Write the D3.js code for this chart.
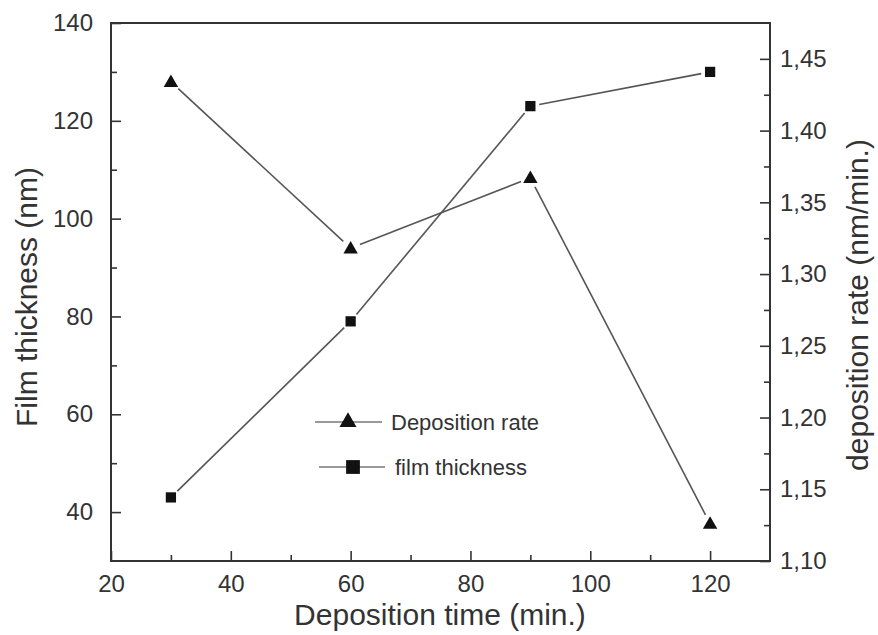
<!DOCTYPE html>
<html>
<head>
<meta charset="utf-8">
<script src="https://cdn.jsdelivr.net/npm/d3@7"></script>
<style>
  html, body { margin: 0; padding: 0; background: #fff; }
  text { font-family: "Liberation Sans", Arial, sans-serif; fill: #333; }
</style>
</head>
<body>
<svg id="chart" width="878" height="635"></svg>
<script>
// Deposition time (min.)
const times = [30, 60, 90, 120];
// Film thickness (nm), left axis
const thickness = [43, 79, 123, 130];
// Deposition rate (nm/min.), right axis
const rate = [1.434, 1.318, 1.367, 1.126];

const xTicks = [20, 40, 60, 80, 100, 120];
const yLeftTicks = [40, 60, 80, 100, 120, 140];
const yRightTicks = [1.10, 1.15, 1.20, 1.25, 1.30, 1.35, 1.40, 1.45];

const svg = d3.select("#chart");
const m = { left: 111, right: 770, top: 23, bottom: 561 };

const x = d3.scaleLinear().domain([20, 130]).range([m.left, m.right]);
const yL = d3.scaleLinear().domain([30, 140]).range([m.bottom, m.top]);
const yR = d3.scaleLinear().domain([1.10, 1.475]).range([m.bottom, m.top]);

const axisColor = "#333";
const lineColor = "#555";

// frame
svg.append("rect")
  .attr("x", m.left).attr("y", m.top)
  .attr("width", m.right - m.left).attr("height", m.bottom - m.top)
  .attr("fill", "none").attr("stroke", axisColor).attr("stroke-width", 2);

function styleAxis(g) {
  g.select(".domain").remove();
  g.selectAll(".tick line").attr("stroke", axisColor).attr("stroke-width", 1.6);
  g.selectAll(".tick text").attr("font-size", 24).attr("fill", "#333");
}

// bottom axis (ticks point inward)
svg.append("g").attr("transform", `translate(0,${m.bottom})`)
  .call(d3.axisBottom(x).tickValues(xTicks).tickSize(-10).tickPadding(14)
    .tickFormat(d3.format("d")))
  .call(styleAxis);
svg.append("g").attr("transform", `translate(0,${m.bottom})`)
  .call(d3.axisBottom(x).tickValues(d3.range(30, 130, 20)).tickSize(-6).tickFormat(""))
  .call(styleAxis);

// left axis
svg.append("g").attr("transform", `translate(${m.left},0)`)
  .call(d3.axisLeft(yL).tickValues(yLeftTicks).tickSize(-10).tickPadding(18)
    .tickFormat(d3.format("d")))
  .call(styleAxis);
svg.append("g").attr("transform", `translate(${m.left},0)`)
  .call(d3.axisLeft(yL).tickValues(d3.range(50, 140, 20)).tickSize(-6).tickFormat(""))
  .call(styleAxis);

// right axis, decimal comma
const commaFmt = d => d3.format(".2f")(d).replace(".", ",");
svg.append("g").attr("transform", `translate(${m.right},0)`)
  .call(d3.axisRight(yR).tickValues(yRightTicks).tickSize(-10).tickPadding(10)
    .tickFormat(commaFmt))
  .call(styleAxis);
svg.append("g").attr("transform", `translate(${m.right},0)`)
  .call(d3.axisRight(yR).tickValues(d3.range(1.125, 1.47, 0.05)).tickSize(-6).tickFormat(""))
  .call(styleAxis);

// axis titles
svg.append("text").attr("x", 440).attr("y", 625)
  .attr("text-anchor", "middle").attr("font-size", 30).text("Deposition time (min.)");
svg.append("text").attr("transform", "translate(37,297) rotate(-90)")
  .attr("text-anchor", "middle").attr("font-size", 30).text("Film thickness (nm)");
svg.append("text").attr("transform", "translate(868,305) rotate(-90)")
  .attr("text-anchor", "middle").attr("font-size", 30).text("deposition rate (nm/min.)");

// connecting segments stop short of the markers
function drawSegments(pts, gap) {
  for (let i = 0; i < pts.length - 1; i++) {
    const [x1, y1] = pts[i], [x2, y2] = pts[i + 1];
    const len = Math.hypot(x2 - x1, y2 - y1);
    const ux = (x2 - x1) / len, uy = (y2 - y1) / len;
    svg.append("line")
      .attr("x1", x1 + ux * gap).attr("y1", y1 + uy * gap)
      .attr("x2", x2 - ux * gap).attr("y2", y2 - uy * gap)
      .attr("stroke", lineColor).attr("stroke-width", 1.6);
  }
}

const tri = d3.symbol().type(d3.symbolTriangle).size(90);
const sq = d3.symbol().type(d3.symbolSquare).size(105);

const thkPts = times.map((t, i) => [x(t), yL(thickness[i])]);
const ratePts = times.map((t, i) => [x(t), yR(rate[i])]);

drawSegments(thkPts, 9);
drawSegments(ratePts, 10);

svg.selectAll(".sq").data(thkPts).enter().append("path")
  .attr("d", sq).attr("transform", d => `translate(${d[0]},${d[1]})`)
  .attr("fill", "#111");
svg.selectAll(".tri").data(ratePts).enter().append("path")
  .attr("d", tri).attr("transform", d => `translate(${d[0]},${d[1] + 1})`)
  .attr("fill", "#111");

// legend
const legTri = d3.symbol().type(d3.symbolTriangle).size(125);
const legSq = d3.symbol().type(d3.symbolSquare).size(190);
const legend = [
  { label: "Deposition rate", sym: legTri, x0: 315, x1: 382, mx: 348, y: 422, tx: 391 },
  { label: "film thickness", sym: legSq, x0: 319, x1: 385, mx: 353, y: 467, tx: 395 }
];
legend.forEach(l => {
  svg.append("line").attr("x1", l.x0).attr("x2", l.x1).attr("y1", l.y).attr("y2", l.y)
    .attr("stroke", "#777").attr("stroke-width", 1.4);
  svg.append("path").attr("d", l.sym).attr("transform", `translate(${l.mx},${l.y})`)
    .attr("fill", "#111");
  svg.append("text").attr("x", l.tx).attr("y", l.y + 8).attr("font-size", 22)
    .attr("fill", "#444").text(l.label);
});
</script>
</body>
</html>
